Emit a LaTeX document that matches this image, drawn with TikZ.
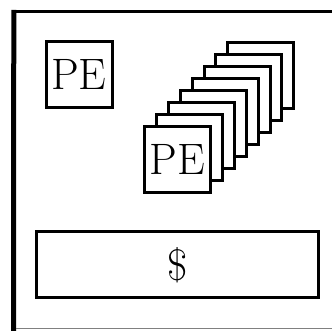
\documentclass[tikz,border=0pt]{standalone}
\begin{document}
\begin{tikzpicture}[x=0.5pt,y=-0.5pt,
  pebox/.style={draw=black,line width=1.5pt,fill=white,minimum size=33pt,inner sep=0pt,font=\fontsize{22}{26}\selectfont},
  busbox/.style={draw=black,line width=1.5pt,fill=white,minimum width=141pt,minimum height=33pt,inner sep=0pt,font=\fontsize{22}{26}\selectfont}]
\useasboundingbox (0,0) rectangle (332,331);
% outer frame (cut at right)
\coordinate (tl) at (13.5,11.7);
\coordinate (tr) at (332,11.7);
\coordinate (bl) at (13.5,331);
\coordinate (blin) at (16,329);
\coordinate (br) at (332,329);
\draw[line width=1.75pt] (tl) -- (tr);
\draw[line width=2.5pt] (13.8,10) -- (bl);
\draw[gray,line width=0.5pt] (blin) -- (br);
% single PE
\node[pebox] (pe1) at (79,74.5) {PE};
% stack of PEs, back to front
\foreach \i in {7,6,...,1}{
  \node[pebox] (s\i) at ({177.5+11.9*\i},{159.5-12*\i}) {};
}
\node[pebox] (s0) at (177.5,159.5) {PE};
% bus
\node[busbox] (bus) at (177.5,265) {\$};
\end{tikzpicture}
\end{document}
